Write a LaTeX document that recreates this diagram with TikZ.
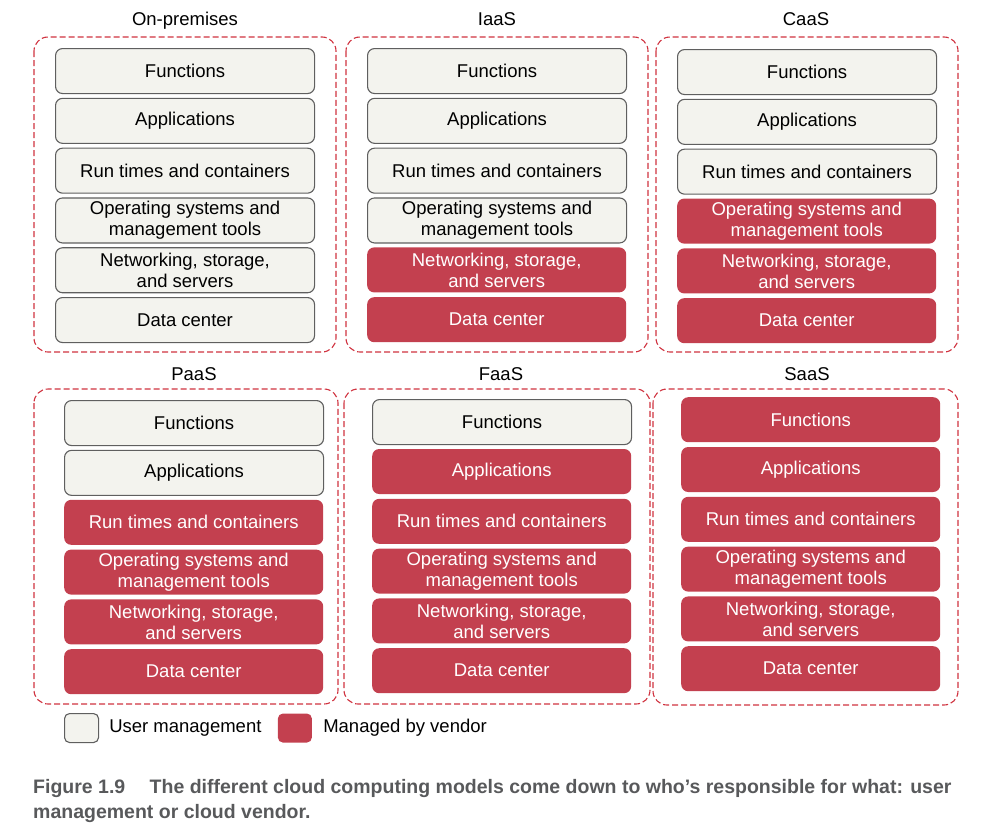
\documentclass[tikz,border=0pt]{standalone}
\usepackage{fontspec}
\setmainfont{Liberation Sans}
\usetikzlibrary{positioning}
\definecolor{userfill}{HTML}{F3F3EE}
\definecolor{boxgray}{HTML}{5F5F5F}
\definecolor{vendorfill}{HTML}{C3404F}
\definecolor{dashred}{HTML}{D0323F}
\definecolor{captiongray}{HTML}{58595B}
\newcommand{\layerfont}{\fontsize{18.5}{21}\selectfont}

\tikzset{
  layer/.style={rounded corners=7pt, minimum width=259pt, minimum height=45pt,
    align=center, inner sep=0pt, font=\layerfont},
  userlayer/.style={layer, draw=boxgray, fill=userfill, line width=1.1pt},
  vendorlayer/.style={layer, fill=vendorfill, text=white},
  panel/.style={draw=dashred, line width=1.1pt, dash pattern=on 6pt off 3pt,
    rounded corners=14pt},
  paneltitle/.style={font=\layerfont, inner sep=0pt, anchor=base},
  keylabel/.style={font=\layerfont, inner sep=0pt},
  captionline/.style={font=\bfseries\fontsize{19.5}{25}\selectfont,
    text=captiongray, inner sep=0pt, anchor=base west}
}

\begin{document}
\begin{tikzpicture}[x=1pt,y=-1pt]
  \useasboundingbox (0,0) rectangle (985,838);
  % panels: name / dashed box / first layer / title / user layers
  \foreach \name/\ttl/\xa/\xb/\ya/\yb/\xi/\yt/\xt/\yl/\nu in {
      onprem/On-premises/34/336/37/352/55/48/185/25/6,
      iaas/IaaS/346/648/37/352/367/48/497/25/4,
      caas/CaaS/656/958/37/352/677/49/806/25/3,
      paas/PaaS/34/338/389/704/64/400/194/380/2,
      faas/FaaS/344/650/389/704/372/399/501/380/1,
      saas/SaaS/653/958/389/705/681/397/807/380/0}
  {
    \draw[panel] (\xa,\ya) rectangle (\xb,\yb);
    \node[paneltitle] (\name-title) at (\xt,\yl) {\ttl};
    \foreach \lab [count=\j] in {Functions, Applications, Run times and containers,
        {Operating systems and\\management tools},
        {Networking, storage,\\and servers}, Data center}
    {
      \ifnum\j>\nu
        \tikzset{thislayer/.style={vendorlayer}}
      \else
        \tikzset{thislayer/.style={userlayer}}
      \fi
      \node[thislayer, anchor=north west] (\name-\j) at (\xi,{\yt+(\j-1)*49.8}) {\lab};
    }
  }

  % legend
  \node[userlayer, rounded corners=5pt, minimum width=34pt, minimum height=29pt,
    anchor=north west] (userkey) at (64,713) {};
  \node[keylabel, right=10pt of userkey] (userlabel) {User management};
  \node[vendorlayer, rounded corners=5pt, minimum width=34pt, minimum height=29pt,
    right=16pt of userlabel] (vendorkey) {};
  \node[keylabel, right=11pt of vendorkey] (vendorlabel) {Managed by vendor};

  % caption
  \node[captionline] (caption1) at (33,793)
    {Figure 1.9\hspace{1.25em}The different cloud computing models come down to who’s responsible for what: user};
  \node[captionline] (caption2) at (33,818) {management or cloud vendor.};
\end{tikzpicture}
\end{document}
